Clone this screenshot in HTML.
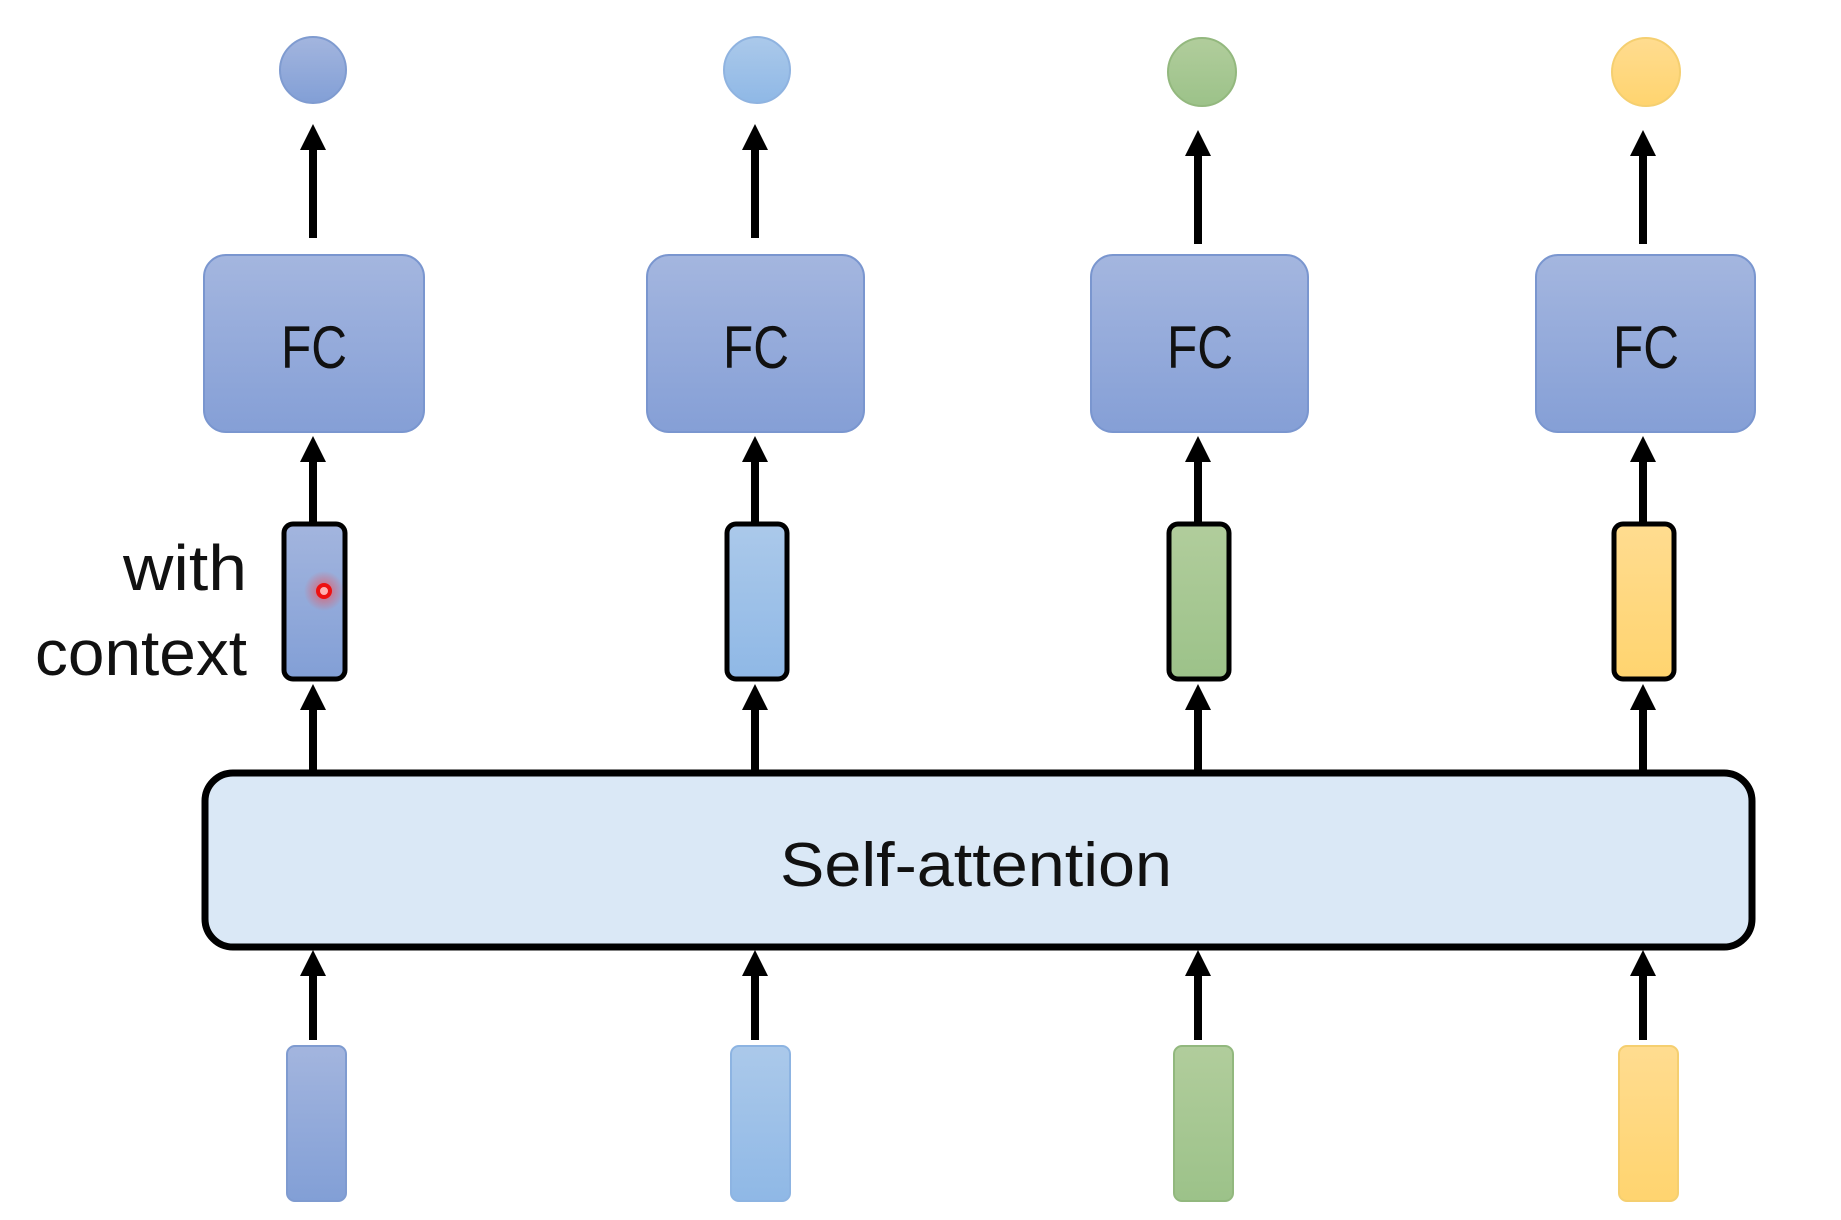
<!DOCTYPE html>
<html><head><meta charset="utf-8"><style>html,body{margin:0;padding:0;background:#fff}svg{display:block}</style></head>
<body>
<svg width="1841" height="1220" viewBox="0 0 1841 1220" xmlns="http://www.w3.org/2000/svg">
<defs>
<linearGradient id="gb" x1="0" y1="0" x2="0" y2="1"><stop offset="0" stop-color="#a3b5de"/><stop offset="1" stop-color="#829fd6"/></linearGradient>
<linearGradient id="gl" x1="0" y1="0" x2="0" y2="1"><stop offset="0" stop-color="#abc9ea"/><stop offset="1" stop-color="#8fb8e6"/></linearGradient>
<linearGradient id="gg" x1="0" y1="0" x2="0" y2="1"><stop offset="0" stop-color="#b1cd9c"/><stop offset="1" stop-color="#9cc289"/></linearGradient>
<linearGradient id="gy" x1="0" y1="0" x2="0" y2="1"><stop offset="0" stop-color="#ffdc90"/><stop offset="1" stop-color="#ffd46f"/></linearGradient>
<linearGradient id="gf" x1="0" y1="0" x2="0" y2="1"><stop offset="0" stop-color="#a4b6df"/><stop offset="1" stop-color="#859fd6"/></linearGradient>
<radialGradient id="rg"><stop offset="0" stop-color="#ff4040" stop-opacity="0.7"/><stop offset="1" stop-color="#ff4040" stop-opacity="0"/></radialGradient>
</defs>
<g font-family="Liberation Sans, sans-serif">
<!-- circles -->
<circle cx="313" cy="70" r="33" fill="url(#gb)" stroke="#7f9bd0" stroke-width="2"/>
<circle cx="757" cy="70" r="33" fill="url(#gl)" stroke="#8fb3e0" stroke-width="2"/>
<circle cx="1202" cy="72" r="34" fill="url(#gg)" stroke="#93b87e" stroke-width="2"/>
<circle cx="1646" cy="72" r="34" fill="url(#gy)" stroke="#f5cf70" stroke-width="2"/>
<!-- arrows -->
<g fill="#000">
<rect x="309" y="146" width="8" height="92"/><polygon points="313,124 300,150 326,150"/>
<rect x="751" y="146" width="8" height="92"/><polygon points="755,124 742,150 768,150"/>
<rect x="1194" y="152" width="8" height="92"/><polygon points="1198,130 1185,156 1211,156"/>
<rect x="1639" y="152" width="8" height="92"/><polygon points="1643,130 1630,156 1656,156"/>

<rect x="309" y="455" width="8" height="70"/><polygon points="313,436 300,462 326,462"/>
<rect x="751" y="455" width="8" height="70"/><polygon points="755,436 742,462 768,462"/>
<rect x="1194" y="455" width="8" height="70"/><polygon points="1198,436 1185,462 1211,462"/>
<rect x="1639" y="455" width="8" height="70"/><polygon points="1643,436 1630,462 1656,462"/>

<rect x="309" y="703" width="8" height="70"/><polygon points="313,684 300,710 326,710"/>
<rect x="751" y="703" width="8" height="70"/><polygon points="755,684 742,710 768,710"/>
<rect x="1194" y="703" width="8" height="70"/><polygon points="1198,684 1185,710 1211,710"/>
<rect x="1639" y="703" width="8" height="70"/><polygon points="1643,684 1630,710 1656,710"/>

<rect x="309" y="968" width="8" height="72"/><polygon points="313,950 300,976 326,976"/>
<rect x="751" y="968" width="8" height="72"/><polygon points="755,950 742,976 768,976"/>
<rect x="1194" y="968" width="8" height="72"/><polygon points="1198,950 1185,976 1211,976"/>
<rect x="1639" y="968" width="8" height="72"/><polygon points="1643,950 1630,976 1656,976"/>
</g>
<!-- FC boxes -->
<g stroke="#7a96cf" stroke-width="2" fill="url(#gf)">
<rect x="204" y="255" width="220" height="177" rx="22"/>
<rect x="647" y="255" width="217" height="177" rx="22"/>
<rect x="1091" y="255" width="217" height="177" rx="22"/>
<rect x="1536" y="255" width="219" height="177" rx="22"/>
</g>
<g font-size="60" fill="#111" text-anchor="middle">
<text x="314" y="368" textLength="66" lengthAdjust="spacingAndGlyphs">FC</text>
<text x="756" y="368" textLength="66" lengthAdjust="spacingAndGlyphs">FC</text>
<text x="1200" y="368" textLength="66" lengthAdjust="spacingAndGlyphs">FC</text>
<text x="1646" y="368" textLength="66" lengthAdjust="spacingAndGlyphs">FC</text>
</g>
<!-- context vectors -->
<g stroke="#000" stroke-width="5">
<rect x="284" y="524" width="61" height="155" rx="9" fill="url(#gb)"/>
<rect x="727" y="524" width="60" height="155" rx="9" fill="url(#gl)"/>
<rect x="1169" y="524" width="60" height="155" rx="9" fill="url(#gg)"/>
<rect x="1614" y="524" width="60" height="155" rx="9" fill="url(#gy)"/>
</g>
<circle cx="324" cy="591" r="20" fill="url(#rg)"/>
<circle cx="324" cy="591" r="6" fill="#ffb0b0" stroke="#ee1010" stroke-width="4"/>
<text x="247" y="590" font-size="64" text-anchor="end" fill="#111" textLength="124" lengthAdjust="spacingAndGlyphs">with</text>
<text x="247" y="675" font-size="64" text-anchor="end" fill="#111" textLength="212" lengthAdjust="spacingAndGlyphs">context</text>
<!-- self attention -->
<rect x="205" y="773" width="1547" height="174" rx="28" fill="#dae8f6" stroke="#000" stroke-width="7"/>
<text x="976" y="886" font-size="62" text-anchor="middle" fill="#111" textLength="392" lengthAdjust="spacingAndGlyphs">Self-attention</text>
<!-- inputs -->
<rect x="287" y="1046" width="59" height="155" rx="8" fill="url(#gb)" stroke="#7f9bd0" stroke-width="2"/>
<rect x="731" y="1046" width="59" height="155" rx="8" fill="url(#gl)" stroke="#8db4e2" stroke-width="2"/>
<rect x="1174" y="1046" width="59" height="155" rx="8" fill="url(#gg)" stroke="#92b87e" stroke-width="2"/>
<rect x="1619" y="1046" width="59" height="155" rx="8" fill="url(#gy)" stroke="#f5cf70" stroke-width="2"/>
</g>
</svg>
</body></html>
